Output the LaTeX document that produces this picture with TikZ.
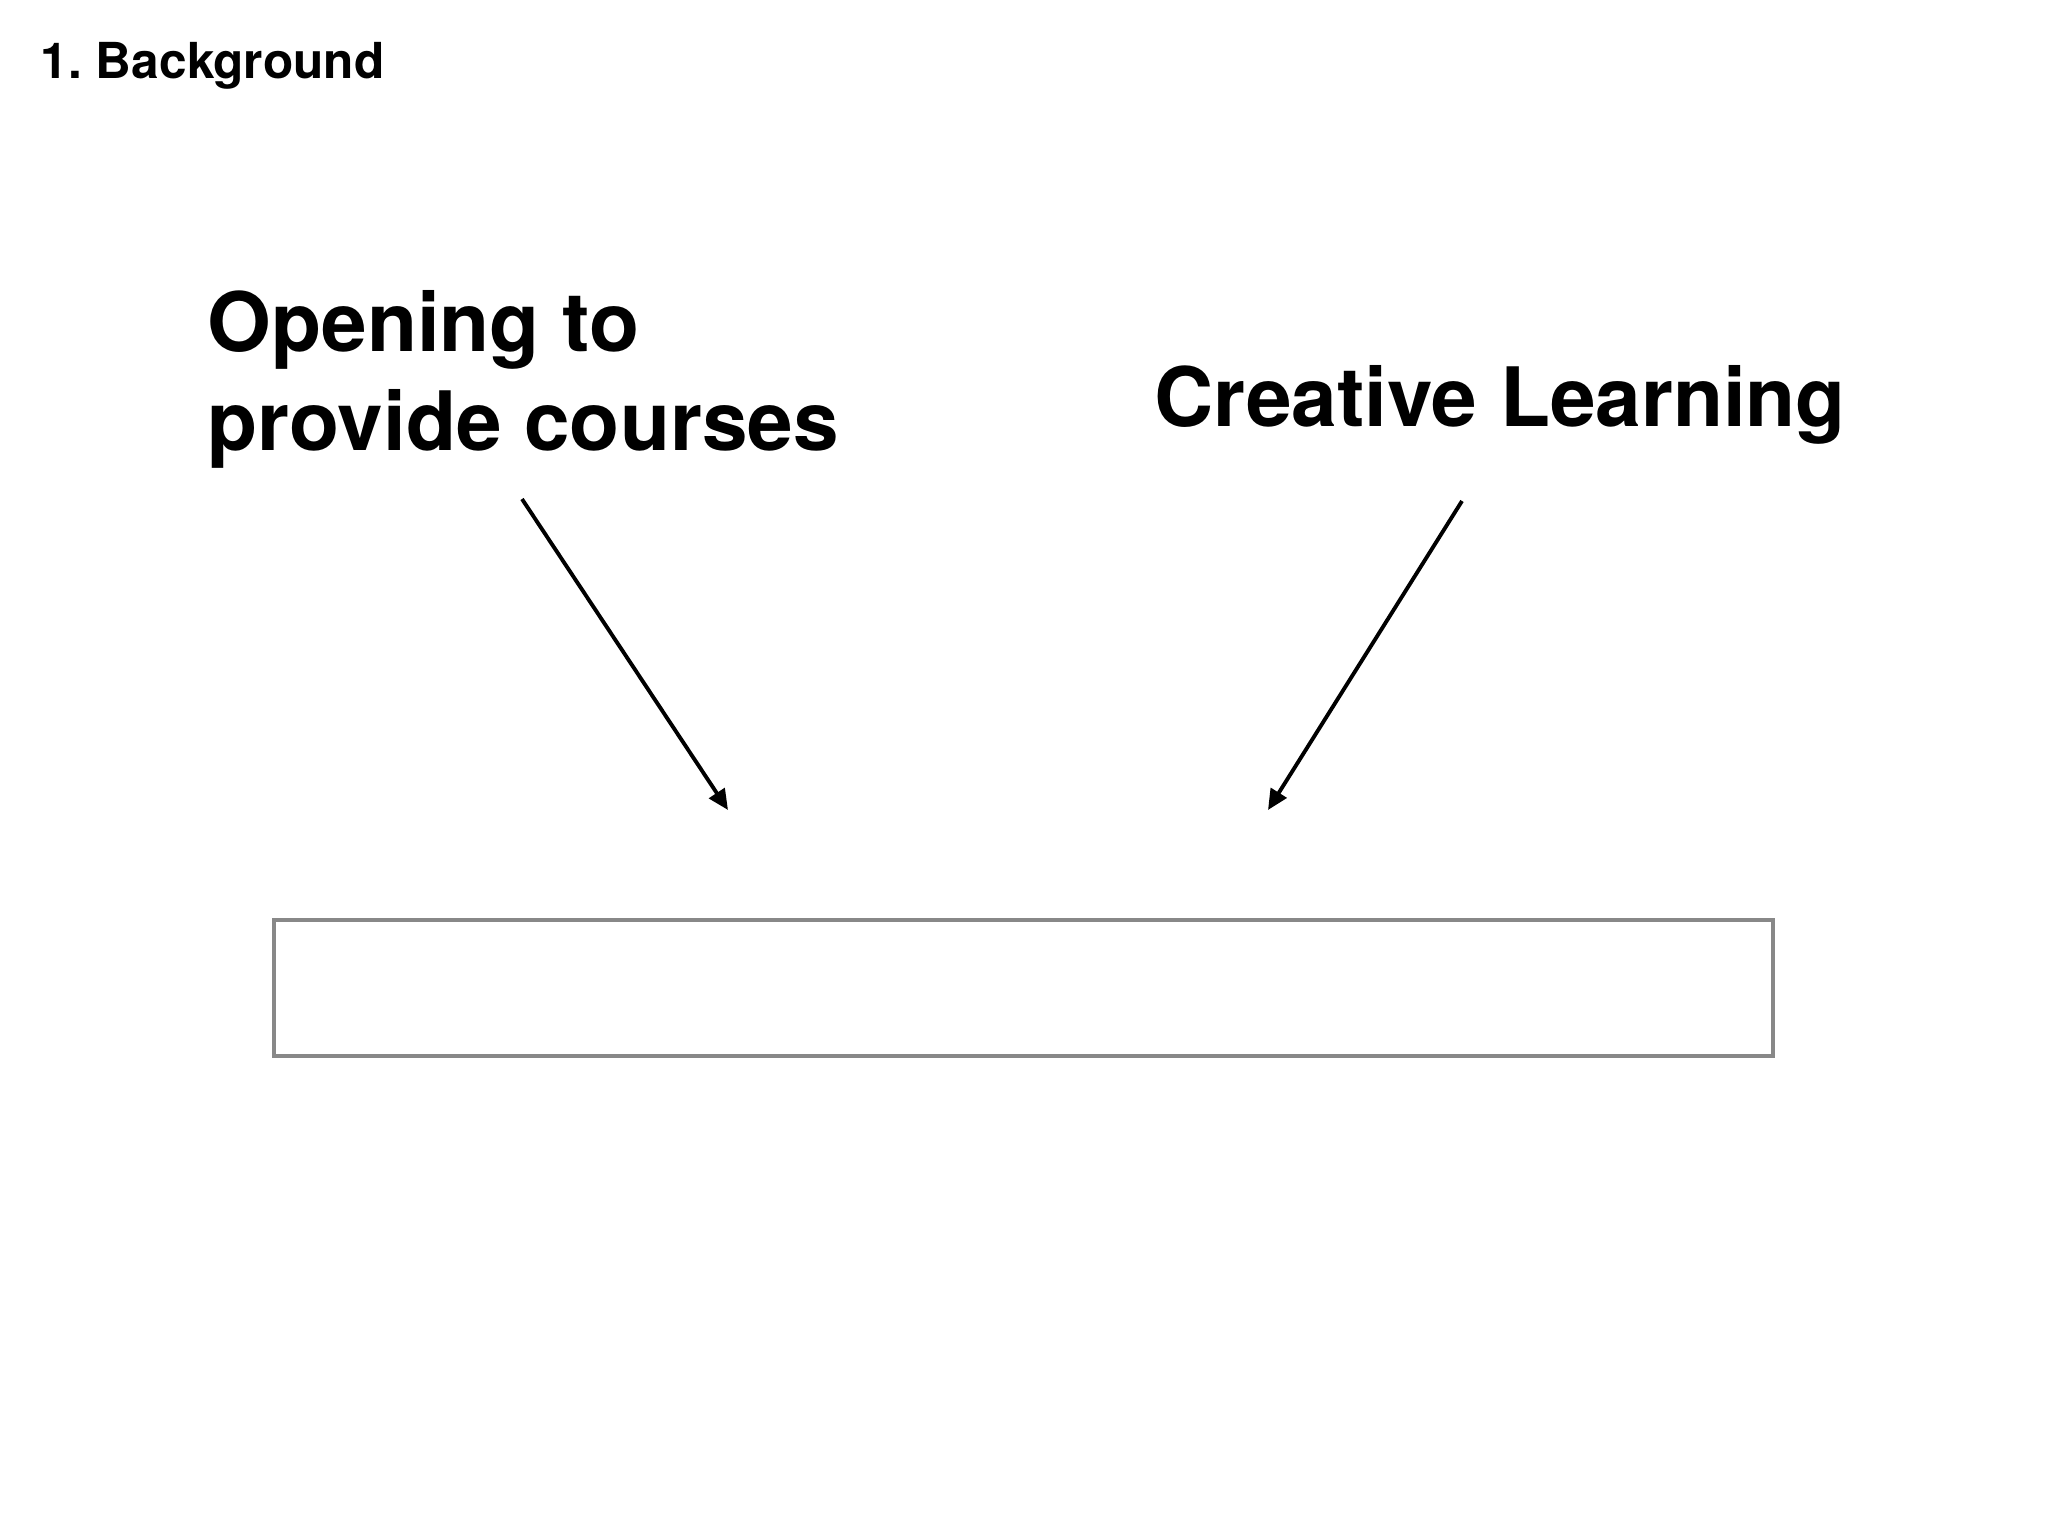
\documentclass[tikz,border=0pt]{standalone}
\usepackage{fontspec}
\setmainfont{TeX Gyre Heros}
\usepackage{tikz}
\usetikzlibrary{arrows.meta}

\begin{document}
\begin{tikzpicture}[x=0.01cm, y=-0.01cm,
    heading/.style={anchor=base west, inner sep=0pt, font=\fontsize{14.1pt}{17pt}\selectfont\bfseries},
    topic/.style={anchor=base west, inner sep=0pt, align=left, font=\fontsize{23.3pt}{27.9pt}\selectfont\bfseries},
    feed/.style={line width=1.1pt, -{Triangle[length=5.8pt, width=5.2pt]}}]
    \useasboundingbox (0,0) rectangle (2048,1536);

    \node[heading] (title) at (40,78) {1.\ Background};

    % base of the last line
    \node[topic] (opening) at (207,450) {Opening to\\provide courses};
    \node[topic] (creative) at (1154,426) {Creative Learning};

    \coordinate (openfrom) at (522,499);
    \coordinate (opento) at (728,810);
    \coordinate (creafrom) at (1462,501);
    \coordinate (creato) at (1268,810);
    \draw[feed] (openfrom) -- (opento);
    \draw[feed] (creafrom) -- (creato);

    \draw[line width=1pt, draw={rgb,255:red,136;green,136;blue,136}] (274,920) rectangle (1773,1056);
\end{tikzpicture}
\end{document}
